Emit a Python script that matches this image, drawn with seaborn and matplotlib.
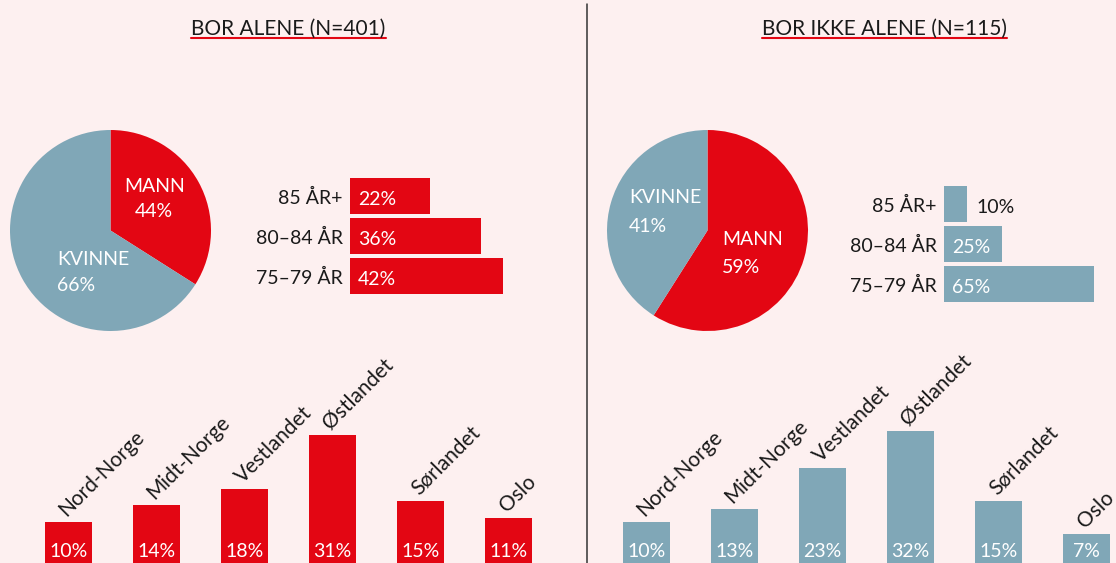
import matplotlib
matplotlib.use("Agg")
import matplotlib.pyplot as plt
import seaborn as sns
import pandas as pd
from matplotlib.lines import Line2D

# ---------------- data ----------------
panel_titles = ["BOR ALENE (N=401)", "BOR IKKE ALENE (N=115)"]
gender_labels = ["MANN", "KVINNE"]
alone_gender_text = ["44%", "66%"]
alone_gender_wedge = [34, 66]          # wedge as drawn in the reference
notalone_gender_text = ["59%", "41%"]
notalone_gender_wedge = [59, 41]
age_groups = ["85 ÅR+", "80–84 ÅR", "75–79 ÅR"]
alone_age = [22, 36, 42]
notalone_age = [10, 25, 65]
regions = ["Nord-Norge", "Midt-Norge", "Vestlandet", "Østlandet", "Sørlandet", "Oslo"]
alone_region = [10, 14, 18, 31, 15, 11]
notalone_region = [10, 13, 23, 32, 15, 7]

# ---------------- style ----------------
RED = "#e30613"
BLUE = "#80a7b7"
BG = "#fdf0f0"
TXT = "#1a1a1a"
W, H = 1116, 563

sns.set_theme(style="white")
plt.rcParams["font.family"] = ["Lato", "DejaVu Sans"]
FS = 14
FS_REG = 15

fig = plt.figure(figsize=(W / 100, H / 100), dpi=100, facecolor=BG)


def px_axes(x0, top, w, h):
    ax = fig.add_axes([x0 / W, 1 - (top + h) / H, w / W, h / H])
    ax.set_facecolor("none")
    return ax


def clean(ax):
    for s in ax.spines.values():
        s.set_visible(False)
    ax.set_xticks([])
    ax.set_yticks([])
    ax.set_xlabel("")
    ax.set_ylabel("")


# ---------------- titles ----------------
title_texts = []
for cx, title in zip([288.5, 884], panel_titles):
    t = fig.text(cx / W, 1 - 35 / H, title, ha="center", va="baseline",
                 fontsize=15, color=TXT)
    title_texts.append(t)

# divider
fig.add_artist(Line2D([587 / W, 587 / W], [0, 1 - 4 / H], transform=fig.transFigure,
                      color="#333333", lw=1.1))

# ---------------- pies ----------------
pie_specs = [
    (10, alone_gender_wedge, alone_gender_text,
     [(0.438, 0.383, "center"), (-0.532, -0.343, "left")],
     [(0.433, 0.134, "center"), (-0.532, -0.602, "left")]),
    (607, notalone_gender_wedge, notalone_gender_text,
     [(0.144, -0.144, "left"), (-0.781, 0.274, "left")],
     [(0.144, -0.423, "left"), (-0.781, -0.015, "left")]),
]
for x0, wedge, txt, name_pos, pct_pos in pie_specs:
    ax = px_axes(x0, 130, 201, 201)
    ax.pie(wedge, colors=[RED, BLUE], startangle=90, counterclock=False,
           radius=1, wedgeprops=dict(linewidth=0))
    ax.set_xlim(-1, 1)
    ax.set_ylim(-1, 1)
    ax.set_aspect("equal")
    ax.axis("off")
    for i in range(2):
        x, y, ha = name_pos[i]
        ax.text(x, y, gender_labels[i], ha=ha, va="baseline", color="white", fontsize=FS)
        x, y, ha = pct_pos[i]
        ax.text(x, y, txt[i], ha=ha, va="baseline", color="white", fontsize=FS)

# ---------------- age bars ----------------
age_specs = [
    (350, 176, 182, 50, alone_age, RED),
    (944, 184, 161, 70, notalone_age, BLUE),
]
for x0, top, w, xmax, vals, col in age_specs:
    ax = px_axes(x0, top, w, 120)
    df = pd.DataFrame({"age": age_groups, "pct": vals})
    sns.barplot(data=df, x="pct", y="age", orient="h", color=col, saturation=1,
                width=0.9, linewidth=0, ax=ax)
    ax.set_xlim(0, xmax)
    ax.set_ylim(2.5, -0.5)
    clean(ax)
    for i, v in enumerate(vals):
        ax.annotate(age_groups[i], (0, i), xytext=(-7.5, -8), textcoords="offset pixels",
                    ha="right", va="baseline", color=TXT, fontsize=FS, annotation_clip=False)
        if v >= 15:
            ax.annotate(f"{v}%", (0, i), xytext=(8, -9), textcoords="offset pixels",
                        ha="left", va="baseline", color="white", fontsize=FS)
        else:
            ax.annotate(f"{v}%", (v, i), xytext=(9, -9), textcoords="offset pixels",
                        ha="left", va="baseline", color=TXT, fontsize=FS,
                        annotation_clip=False)

# ---------------- region bars ----------------
PXP = 4.13  # pixels per percent
reg_specs = [(24.5, alone_region, RED), (602.5, notalone_region, BLUE)]
for x0, vals, col in reg_specs:
    ax = px_axes(x0, 563 - 230, 528, 230)
    df = pd.DataFrame({"region": regions, "pct": vals})
    sns.barplot(data=df, x="region", y="pct", color=col, saturation=1,
                width=0.534, linewidth=0, ax=ax)
    ax.set_xlim(-0.5, 5.5)
    ax.set_ylim(0, 230 / PXP)
    clean(ax)
    for i, v in enumerate(vals):
        ax.annotate(regions[i], (i, v), xytext=(-2, 5), textcoords="offset pixels",
                    rotation=45, rotation_mode="anchor", ha="left", va="baseline",
                    color=TXT, fontsize=FS_REG, annotation_clip=False)
        ax.annotate(f"{v}%", (i, 0), xytext=(0, 6), textcoords="offset pixels",
                    ha="center", va="baseline", color="white", fontsize=FS)

# title underlines sized to the text
fig.canvas.draw()
r = fig.canvas.get_renderer()
for t in title_texts:
    bb = t.get_window_extent(r)
    fig.add_artist(Line2D([bb.x0 / W, bb.x1 / W], [1 - 37.5 / H] * 2,
                          transform=fig.transFigure, color=RED, lw=1.5))

fig.savefig("out.png", dpi=100, facecolor=BG)
